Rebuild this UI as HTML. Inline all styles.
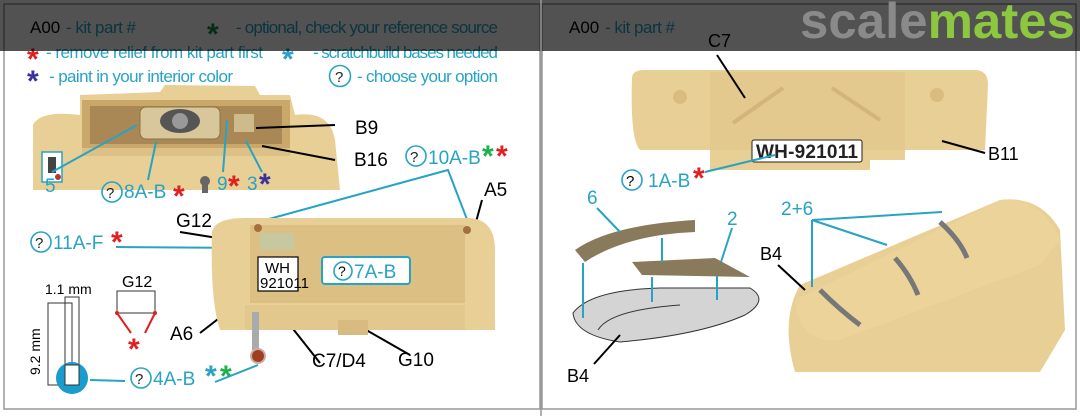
<!DOCTYPE html>
<html><head><meta charset="utf-8"><style>
html,body{margin:0;padding:0;background:#fff;}
svg{display:block;}
text{font-family:"Liberation Sans",sans-serif;}
.st{font-size:30px;font-weight:bold;}
</style></head><body>
<svg width="1080" height="416" viewBox="0 0 1080 416" xmlns="http://www.w3.org/2000/svg">
<rect width="1080" height="416" fill="#fff"/>
<rect x="4" y="4" width="536" height="405" fill="none" stroke="#999" stroke-width="1.5"/>
<rect x="542" y="4" width="534" height="405" fill="none" stroke="#999" stroke-width="1.5"/>

<g font-size="17" fill="#27a3c4">
<text x="30" y="33" fill="#000">A00</text><text x="66" y="33" textLength="70">- kit part #</text>
<text x="236" y="33" textLength="262">- optional, check your reference source</text>
<text x="46" y="58" textLength="217">- remove relief from kit part first</text>
<text x="313" y="58" textLength="185">- scratchbuild bases needed</text>
<text x="49" y="82" textLength="184">- paint in your interior color</text>
<circle cx="340" cy="76" r="10.5" fill="none" stroke="#27a3c4" stroke-width="1.6"/><text x="335" y="82" font-size="15" fill="#222">?</text>
<text x="357" y="82" textLength="141">- choose your option</text>
</g>
<g class="st">
<text x="207" y="44" class="st" fill="#1a8a4a">*</text>
<text x="27" y="69" class="st" fill="#e02020">*</text>
<text x="282" y="69" class="st" fill="#27a3c4">*</text>
<text x="27" y="91" class="st" fill="#3a2fa0">*</text>
</g>

<!-- left top photo -->
<g>
<path d="M33 125 Q40 110 80 115 L80 95 L160 92 L165 85 L255 86 L260 95 L290 95 L295 115 Q330 110 335 140 L340 190 L33 190 Z" fill="#e8cf95"/>
<rect x="82" y="100" width="208" height="50" fill="#c9a86a"/>
<rect x="90" y="106" width="192" height="38" fill="#a98856"/>
<rect x="140" y="107" width="80" height="32" rx="6" fill="#d8c79a" stroke="#8a7444"/>
<ellipse cx="180" cy="121" rx="20" ry="12" fill="#555"/>
<circle cx="180" cy="121" r="8" fill="#999"/>
<rect x="234" y="114" width="20" height="18" fill="#cdbb8c"/>
<rect x="82" y="148" width="208" height="8" fill="#dcc086"/>
<rect x="42" y="152" width="20" height="30" fill="#fff" stroke="#27a3c4" stroke-width="1.5"/>
<rect x="48" y="157" width="8" height="16" fill="#444"/>
<circle cx="58" cy="177" r="3" fill="#b33"/>
</g>
<g stroke-width="2" stroke="#27a3c4" fill="none">
<line x1="52" y1="172" x2="137" y2="125"/>
<line x1="148" y1="180" x2="156" y2="142"/>
<line x1="223" y1="172" x2="227" y2="120"/>
<line x1="262" y1="172" x2="246" y2="141"/>
<polyline points="258,222 448,170 468,222"/>
<line x1="116" y1="247" x2="258" y2="248"/>
<line x1="298" y1="271" x2="322" y2="270"/>
<line x1="90" y1="380" x2="125" y2="381"/>
<line x1="215" y1="382" x2="258" y2="365"/>
</g>
<g stroke-width="2" stroke="#000">
<line x1="256" y1="128" x2="335" y2="125"/>
<line x1="262" y1="146" x2="335" y2="160"/>
<line x1="482" y1="200" x2="465" y2="262"/>
<line x1="180" y1="232" x2="255" y2="244"/>
<line x1="200" y1="333" x2="258" y2="288"/>
<line x1="286" y1="320" x2="320" y2="363"/>
<line x1="340" y1="315" x2="410" y2="355"/>
</g>
<g font-size="19">
<text x="355" y="134">B9</text>
<text x="354" y="166">B16</text>
<text x="484" y="196">A5</text>
<text x="176" y="227">G12</text>
<text x="170" y="340">A6</text>
<text x="312" y="367">C7/D4</text>
<text x="398" y="366">G10</text>
</g>
<g font-size="19" fill="#27a3c4">
<text x="45" y="192">5</text>
<circle cx="112" cy="192" r="10" fill="none" stroke="#27a3c4" stroke-width="1.6"/><text x="106" y="198" font-size="15" fill="#222">?</text>
<text x="124" y="198">8A-B</text>
<text x="217" y="190">9</text>
<text x="247" y="190">3</text>
<circle cx="416" cy="156" r="10" fill="none" stroke="#27a3c4" stroke-width="1.6"/><text x="410" y="162" font-size="15" fill="#222">?</text>
<text x="428" y="164">10A-B</text>
<circle cx="41" cy="242" r="10" fill="none" stroke="#27a3c4" stroke-width="1.6"/><text x="35" y="248" font-size="15" fill="#222">?</text>
<text x="53" y="249">11A-F</text>
<circle cx="141" cy="378" r="10" fill="none" stroke="#27a3c4" stroke-width="1.6"/><text x="135" y="384" font-size="15" fill="#222">?</text>
<text x="153" y="385">4A-B</text>
</g>
<text x="173" y="206" class="st" fill="#e02020">*</text>
<text x="228" y="196" class="st" fill="#e02020">*</text>
<text x="259" y="194" class="st" fill="#3a2fa0">*</text>
<text x="482" y="166" class="st" fill="#1ab04a">*</text>
<text x="496" y="166" class="st" fill="#e02020">*</text>
<text x="111" y="252" class="st" fill="#e02020">*</text>
<text x="205" y="386" class="st" fill="#27a3c4">*</text>
<text x="220" y="386" class="st" fill="#1ab04a">*</text>
<text x="128" y="359" class="st" fill="#e02020">*</text>
<circle cx="205" cy="181" r="5" fill="#666"/><rect x="202" y="181" width="6" height="12" fill="#666"/>

<!-- left bottom photo -->
<g>
<path d="M212 232 Q215 218 245 218 L470 218 Q495 220 495 250 L495 330 L220 330 Q210 300 212 232 Z" fill="#e8cf95"/>
<rect x="250" y="225" width="215" height="78" fill="#dcbf82"/>
<rect x="245" y="305" width="220" height="25" fill="#e2c88c"/>
<rect x="338" y="320" width="30" height="15" fill="#d8bb80"/>
<rect x="260" y="233" width="34" height="17" fill="#c8c8a0"/>
<rect x="252" y="312" width="7" height="38" fill="#aaa"/>
<circle cx="258" cy="356" r="7" fill="#a04020" stroke="#caa" stroke-width="2"/>
<circle cx="258" cy="228" r="4" fill="#a47040"/><circle cx="467" cy="230" r="4" fill="#a47040"/>
</g>
<rect x="258" y="257" width="40" height="34" fill="#fff" stroke="#000" stroke-width="1.2"/>
<text x="265" y="273" font-size="15">WH</text><text x="260" y="288" font-size="15">921011</text>
<rect x="322" y="257" width="88" height="27" rx="3" fill="#fff" stroke="#27a3c4" stroke-width="2"/>
<circle cx="343" cy="271" r="9" fill="none" stroke="#27a3c4" stroke-width="1.6"/><text x="338" y="276" font-size="14">?</text>
<text x="354" y="278" font-size="19" fill="#27a3c4">7A-B</text>

<g stroke="#333" stroke-width="1" fill="none">
<rect x="48" y="303" width="24" height="82"/>
<rect x="65" y="297" width="14" height="88"/>
<rect x="117" y="291" width="38" height="22"/>
</g>
<circle cx="72" cy="378" r="16" fill="#1a9ccc"/>
<rect x="65" y="365" width="14" height="20" fill="#fff" stroke="#333" stroke-width="1"/>
<text x="45" y="294" font-size="14">1.1 mm</text>
<text x="122" y="287" font-size="16">G12</text>
<text transform="translate(40,375) rotate(-90)" font-size="14">9.2 mm</text>
<g stroke="#e02020" stroke-width="2"><line x1="117" y1="313" x2="131" y2="333"/><line x1="155" y1="313" x2="145" y2="333"/></g>
<circle cx="117" cy="313" r="2" fill="#e02020"/><circle cx="155" cy="313" r="2" fill="#e02020"/>

<!-- right panel -->
<text x="569" y="33" font-size="17">A00</text><text x="605" y="33" font-size="17" fill="#27a3c4" textLength="70">- kit part #</text>
<path d="M632 78 Q632 70 645 70 L975 70 Q988 70 988 85 L985 150 L905 150 L905 160 L870 160 L870 170 L710 170 L710 150 L640 150 Q630 140 632 78 Z" fill="#e8cf95"/>
<rect x="710" y="72" width="195" height="78" fill="#e3c98e"/>
<circle cx="680" cy="97" r="7" fill="#d8bc80"/><circle cx="937" cy="95" r="7" fill="#d8bc80"/>
<path d="M733 123 L783 88 M832 88 L880 120" stroke="#d2b577" stroke-width="4"/>
<rect x="752" y="140" width="110" height="22" rx="2" fill="#fff" stroke="#222" stroke-width="1"/>
<text x="756" y="158" font-size="19" font-weight="bold" fill="#222" textLength="102">WH-921011</text>
<line x1="717" y1="55" x2="745" y2="98" stroke="#000" stroke-width="2"/>
<line x1="942" y1="141" x2="985" y2="153" stroke="#000" stroke-width="2"/>
<text x="708" y="47" font-size="18">C7</text>
<text x="988" y="160" font-size="18">B11</text>
<line x1="705" y1="172" x2="775" y2="155" stroke="#27a3c4" stroke-width="2"/>
<circle cx="632" cy="180" r="10" fill="none" stroke="#27a3c4" stroke-width="1.6"/><text x="626" y="186" font-size="15">?</text>
<text x="648" y="187" font-size="19" fill="#27a3c4">1A-B</text>
<text x="693" y="188" class="st" fill="#e02020">*</text>

<path d="M575 250 Q610 225 695 220 L695 232 Q625 235 585 262 Z" fill="#8a7a5c"/>
<path d="M632 262 L715 258 L750 277 L642 275 Z" fill="#8a7a5c"/>
<path d="M573 313 Q590 290 660 288 L750 288 Q770 300 745 315 Q700 335 620 342 Q575 335 573 313 Z" fill="#d4d4d4" stroke="#333" stroke-width="1"/>
<path d="M598 330 Q610 310 680 305" fill="none" stroke="#333" stroke-width="1"/>

<!-- right photo -->
<path d="M800 285 L1000 200 Q1040 195 1060 230 L1065 330 L1040 372 L795 372 Q780 320 800 285 Z" fill="#e8cf95"/>
<path d="M1000 200 Q1040 195 1060 240 L1040 265 L840 340 Q800 345 795 300 Z" fill="#ecd39a"/>
<g stroke="#777" stroke-width="5" fill="none">
<path d="M820 290 Q840 310 860 325"/><path d="M895 258 Q910 275 918 295"/><path d="M940 222 Q960 240 967 258"/>
</g>

<g stroke="#27a3c4" stroke-width="2" fill="none">
<line x1="583" y1="263" x2="583" y2="318"/><line x1="662" y1="238" x2="662" y2="262"/>
<line x1="652" y1="277" x2="652" y2="302"/><line x1="717" y1="276" x2="717" y2="300"/>
<line x1="597" y1="208" x2="620" y2="232"/><line x1="732" y1="228" x2="721" y2="262"/>
<polyline points="942,212 812,220 887,245"/><line x1="812" y1="220" x2="812" y2="287"/>
</g>
<text x="587" y="204" font-size="19" fill="#27a3c4">6</text>
<text x="727" y="225" font-size="19" fill="#27a3c4">2</text>
<line x1="620" y1="335" x2="594" y2="364" stroke="#000" stroke-width="2"/>
<text x="567" y="382" font-size="18">B4</text>
<line x1="778" y1="265" x2="805" y2="290" stroke="#000" stroke-width="2"/>
<text x="760" y="260" font-size="18">B4</text>
<text x="781" y="215" font-size="19" fill="#27a3c4">2+6</text>

<!-- header overlay -->
<rect x="0" y="0" width="1080" height="51" fill="#000" opacity="0.68"/>
<text x="800" y="38" font-size="50" font-weight="bold" textLength="275" lengthAdjust="spacingAndGlyphs"><tspan fill="#8a8a8a">scale</tspan><tspan fill="#8dc63f">mates</tspan></text>
<line x1="541" y1="0" x2="541" y2="416" stroke="#999" stroke-width="1.5"/>
</svg>
</body></html>
